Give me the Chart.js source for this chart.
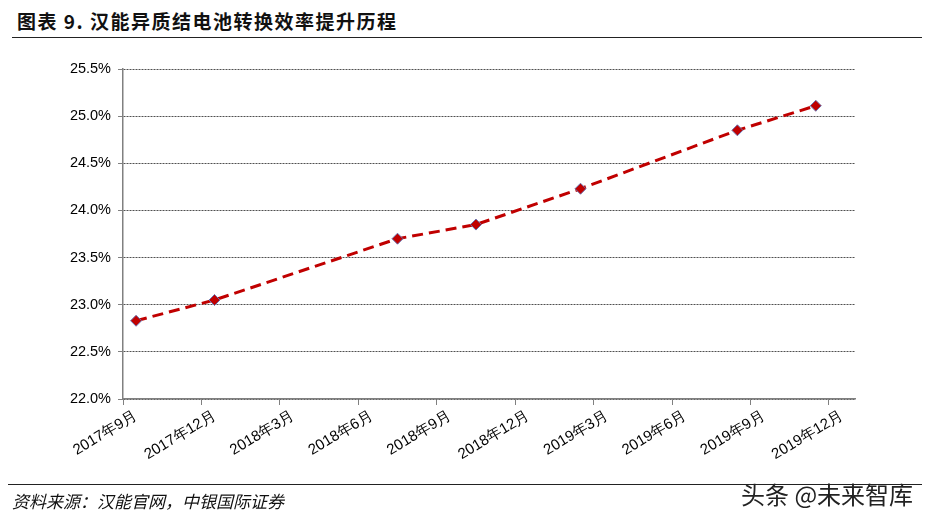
<!DOCTYPE html>
<html>
<head>
<meta charset="utf-8">
<script src="https://cdn.jsdelivr.net/npm/chart.js@4/dist/chart.umd.min.js"></script>
<style>
  html, body { margin: 0; padding: 0; background: #fff; }
  #wrap { position: relative; width: 927px; height: 524px; overflow: hidden; }
  #chart { position: absolute; left: 0; top: 0; }
  .title { position: absolute; left: 17px; top: 7px; font: bold 19px "Noto Sans CJK SC", sans-serif; color: #111; letter-spacing: 1.5px; white-space: nowrap; }
  .rule { position: absolute; height: 0; border-top: 1.5px solid #222; }
  .source { position: absolute; left: 12px; top: 488px; font: italic 17px "Noto Sans CJK SC", serif; color: #111; white-space: nowrap; }
  .mark { position: absolute; left: 741px; top: 480px; font: 24px/27px "Noto Sans CJK SC", sans-serif; color: #222; white-space: nowrap; }
</style>
</head>
<body>
<div id="wrap">
  <div class="title">图表 9. 汉能异质结电池转换效率提升历程</div>
  <div class="rule" style="left:12px; top:37px; width:910px;"></div>
  <canvas id="chart" width="927" height="524"></canvas>
  <div class="rule" style="left:8px; top:484px; width:914px;"></div>
  <div class="source">资料来源：汉能官网，中银国际证券</div>
  <div class="mark">头条 @未来智库</div>
</div>
<script>
// x轴刻度（每季度一个）
const tickLabels = ["2017年9月", "2017年12月", "2018年3月", "2018年6月", "2018年9月",
                    "2018年12月", "2019年3月", "2019年6月", "2019年9月", "2019年12月"];
// 数据点位置：距 2017年9月 的月数
const pointMonths = [0.5, 3.5, 10.5, 13.5, 17.5, 23.5, 26.5];
// 转换效率 (%)
const efficiency = [22.83, 23.05, 23.70, 23.85, 24.23, 24.85, 25.11];

const points = pointMonths.map((m, i) => ({ x: m, y: efficiency[i] }));

let chart = new Chart(document.getElementById('chart'), {
	type: 'line',
	data: {
		datasets: [{
			data: points,
			borderColor: '#C00000',
			borderWidth: 3,
			borderDash: [11, 6],
			fill: false,
			tension: 0,
			pointStyle: 'rectRot',
			pointRadius: 5.5,
			pointBackgroundColor: '#C00000',
			pointBorderColor: '#6A74B0',
			pointBorderWidth: 1
		}]
	},
	options: {
		responsive: false,
		animation: false,
		layout: { padding: { left: 0, right: 72, top: 69, bottom: 0 } },
		plugins: { legend: { display: false }, tooltip: { enabled: false } },
		scales: {
			x: {
				type: 'linear',
				min: 0,
				max: 28,
				afterBuildTicks: function(axis) {
					axis.ticks = tickLabels.map((_, i) => ({ value: i * 3 }));
				},
				afterFit: function(axis) { axis.height = 125; },
				grid: { drawOnChartArea: false, tickLength: 6, color: '#808080', tickColor: '#808080' },
				border: { color: '#808080', width: 1.5 },
				ticks: {
					autoSkip: false,
					minRotation: 31,
					maxRotation: 31,
					labelOffset: 13,
					padding: 2,
					color: '#000',
					font: { family: 'Liberation Sans, Arial', size: 15 },
					callback: function(v) { return tickLabels[Math.round(v / 3)]; }
				}
			},
			y: {
				min: 22,
				max: 25.5,
				afterFit: function(axis) { axis.width = 123; },
				grid: { color: '#505050', tickLength: 5, tickColor: '#808080' },
				border: { color: '#808080', width: 1.5, dash: [2, 1] },
				ticks: {
					stepSize: 0.5,
					padding: 7,
					color: '#000',
					font: { family: 'Liberation Sans, Arial', size: 14.5 },
					callback: function(v) { return v.toFixed(1) + '%'; }
				}
			}
		}
	}
});
</script>
</body>
</html>
